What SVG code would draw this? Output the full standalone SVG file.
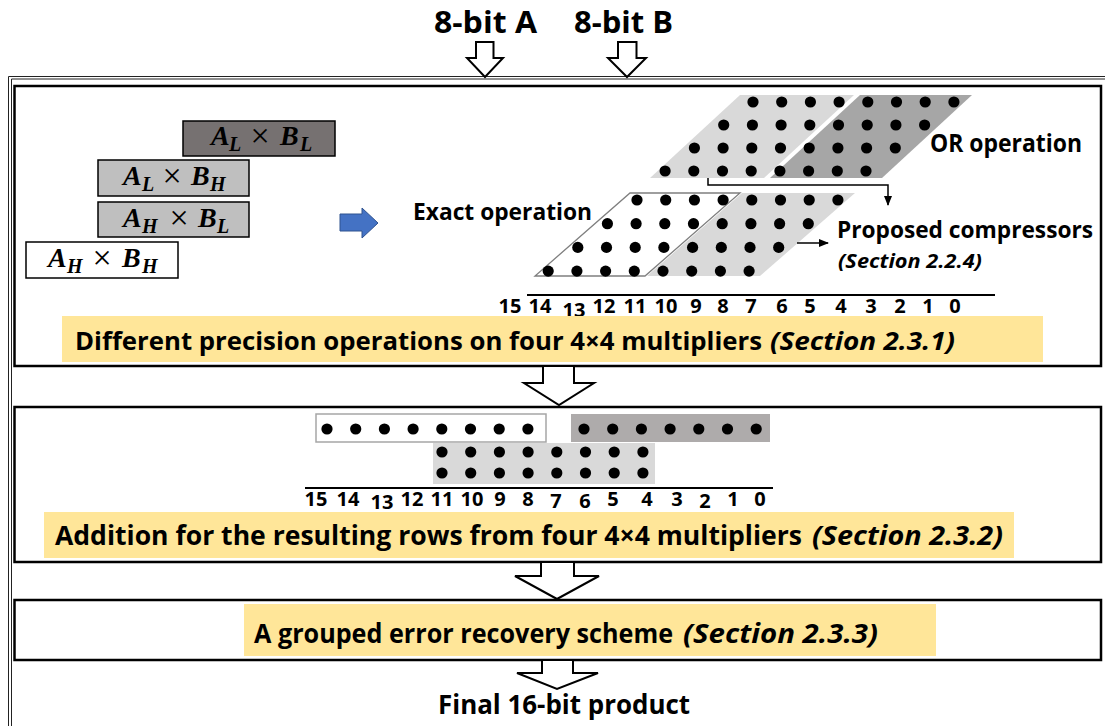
<svg xmlns="http://www.w3.org/2000/svg" xmlns:xlink="http://www.w3.org/1999/xlink" width="1105" height="726" viewBox="0 0 1105 726">
<defs>
<style>
.lbl{font-family:"Open Sans","Liberation Sans",sans-serif;font-weight:700;fill:#000}
.it{font-style:italic}
.math{font-family:"Liberation Serif",serif;font-weight:700;font-style:italic;font-size:28px;fill:#000}
.sub{font-size:20px}
.times{font-family:"Liberation Serif",serif;font-style:normal;font-weight:400;font-size:34px;text-anchor:middle}
.panel{fill:#fff;stroke:#000;stroke-width:2.5}
.band{fill:#ffe699}
.hollow{fill:#fff;stroke:#000;stroke-width:2;stroke-linejoin:miter}
.wire{stroke:#000;stroke-width:1.5;fill:none}
.rule{stroke:#000;stroke-width:2.2}
.num{font-size:20px;text-anchor:middle}
.frame{fill:none;stroke:#222;stroke-width:1}
</style>
<circle id="d" r="5.6" fill="#000"/>
<g id="row7">
<use xlink:href="#d" x="0"/><use xlink:href="#d" x="28.7"/><use xlink:href="#d" x="57.4"/><use xlink:href="#d" x="86.1"/>
<use xlink:href="#d" x="114.8"/><use xlink:href="#d" x="143.5"/><use xlink:href="#d" x="172.2"/>
</g>
<g id="row8"><use xlink:href="#row7"/><use xlink:href="#d" x="200.9"/></g>
<marker id="ah" markerWidth="10" markerHeight="8" refX="9" refY="4" orient="auto" markerUnits="userSpaceOnUse">
<path d="M0,0 L10,4 L0,8 z" fill="#000"/>
</marker>
</defs>

<rect width="1105" height="726" fill="#fff"/>

<!-- outer frame (runs off the right and bottom edges) -->
<path class="frame" d="M1105,76.5 H8.5 V726"/>
<path class="frame" d="M1105,79 H11.5 V726"/>

<!-- inputs -->
<g id="inputs">
<text class="lbl" x="434" y="33" font-size="30" textLength="103" lengthAdjust="spacingAndGlyphs">8-bit A</text>
<text class="lbl" x="574" y="33" font-size="30" textLength="99" lengthAdjust="spacingAndGlyphs">8-bit B</text>
</g>

<!-- stage 1: four 4x4 partial products -->
<g id="panel1">
<rect class="panel" x="14.5" y="86" width="1086.5" height="280"/>

<g id="pp-boxes">
<rect x="183" y="121" width="152" height="35" fill="#767171" stroke="#000" stroke-width="1.5"/>
<rect x="98" y="160" width="151" height="36" fill="#bfbfbf" stroke="#000" stroke-width="1.5"/>
<rect x="98" y="202" width="151" height="35" fill="#bfbfbf" stroke="#000" stroke-width="1.5"/>
<rect x="26" y="242" width="152" height="36" fill="#fff" stroke="#000" stroke-width="1.5"/>

<text class="math" x="211" y="145">A</text><text class="math sub" x="229" y="151">L</text>
<text class="times" x="260" y="147">×</text>
<text class="math" x="280" y="145">B</text><text class="math sub" x="300" y="151">L</text>

<text class="math" x="123" y="185">A</text><text class="math sub" x="142" y="191">L</text>
<text class="times" x="172" y="187">×</text>
<text class="math" x="191" y="185">B</text><text class="math sub" x="210" y="191">H</text>

<text class="math" x="123" y="227">A</text><text class="math sub" x="142" y="233">H</text>
<text class="times" x="179" y="229">×</text>
<text class="math" x="198" y="227">B</text><text class="math sub" x="217" y="233">L</text>

<text class="math" x="48" y="267">A</text><text class="math sub" x="67" y="273">H</text>
<text class="times" x="102" y="269">×</text>
<text class="math" x="122" y="267">B</text><text class="math sub" x="142" y="273">H</text>
</g>

<g id="or-array">
<polygon points="740,95 854,95 764,178 650,178" fill="#d9d9d9"/>
<polygon points="860,95 972,95 882,178 770,178" fill="#a6a6a6"/>
<use xlink:href="#row8" x="753" y="102"/>
<use xlink:href="#row8" x="723.7" y="125"/>
<use xlink:href="#row8" x="694.4" y="148"/>
<use xlink:href="#row8" x="665.1" y="171"/>
<text class="lbl" x="930" y="152" font-size="25" textLength="152" lengthAdjust="spacingAndGlyphs">OR operation</text>
</g>

<g id="exact-array">
<polygon points="742,193 855,193 760,276 647,276" fill="#d9d9d9"/>
<polygon points="630,193 740,193 645,276 535,276" fill="#fff" stroke="#7f7f7f" stroke-width="1.3"/>
<use xlink:href="#row8" x="637" y="200"/>
<use xlink:href="#row8" x="607.4" y="223.7"/>
<use xlink:href="#row8" x="577.8" y="247.4"/>
<use xlink:href="#row8" x="548.2" y="271.1"/>
<text class="lbl" x="413" y="220" font-size="23" textLength="179" lengthAdjust="spacingAndGlyphs">Exact operation</text>
<text class="lbl" x="837" y="238" font-size="24" textLength="256" lengthAdjust="spacingAndGlyphs">Proposed compressors</text>
<text class="lbl it" x="838" y="268" font-size="20" textLength="144" lengthAdjust="spacingAndGlyphs">(Section 2.2.4)</text>
</g>

<g id="bits1">
<line class="rule" x1="527" y1="295" x2="995" y2="295"/>
<g class="lbl num">
<text x="510" y="313">15</text><text x="540" y="313">14</text><text x="574" y="317">13</text><text x="604" y="313">12</text>
<text x="635" y="313">11</text><text x="666" y="313">10</text><text x="696" y="313">9</text><text x="723" y="313">8</text>
<text x="751" y="313">7</text><text x="782" y="313">6</text><text x="810" y="313">5</text><text x="841" y="313">4</text>
<text x="871" y="313">3</text><text x="900" y="313">2</text><text x="928" y="313">1</text><text x="955" y="313">0</text>
</g>
</g>

<rect class="band" x="62" y="316" width="981" height="46"/>
<text class="lbl" x="75" y="350" font-size="25" textLength="687" lengthAdjust="spacingAndGlyphs">Different precision operations on four 4×4 multipliers</text>
<text class="lbl it" x="770" y="350" font-size="25" textLength="185" lengthAdjust="spacingAndGlyphs">(Section 2.3.1)</text>
</g>

<!-- stage 2: row addition -->
<g id="panel2">
<rect class="panel" x="14.5" y="407" width="1086.5" height="155"/>
<rect x="316" y="414" width="230" height="28" fill="#fff" stroke="#a6a6a6" stroke-width="1.5"/>
<rect x="571" y="414" width="199" height="28" fill="#aeabab"/>
<rect x="433" y="443" width="222" height="41" fill="#d9d9d9"/>
<use xlink:href="#row8" x="327" y="429"/>
<use xlink:href="#row7" x="584" y="429"/>
<use xlink:href="#row8" x="442" y="452"/>
<use xlink:href="#row8" x="442" y="473"/>
<line class="rule" x1="305" y1="488" x2="773" y2="488"/>
<g class="lbl num">
<text x="316" y="506">15</text><text x="348" y="506">14</text><text x="382" y="509">13</text><text x="412" y="506">12</text>
<text x="442" y="506">11</text><text x="472" y="506">10</text><text x="500" y="506">9</text><text x="528" y="506">8</text>
<text x="556" y="508">7</text><text x="585" y="508">6</text><text x="613" y="506">5</text><text x="647" y="506">4</text>
<text x="677" y="506">3</text><text x="705" y="508">2</text><text x="733" y="506">1</text><text x="760" y="506">0</text>
</g>
<rect class="band" x="44" y="512" width="970" height="46"/>
<text class="lbl" x="55" y="545" font-size="26" textLength="747" lengthAdjust="spacingAndGlyphs">Addition for the resulting rows from four 4×4 multipliers</text>
<text class="lbl it" x="812" y="545" font-size="26" textLength="191" lengthAdjust="spacingAndGlyphs">(Section 2.3.2)</text>
</g>

<!-- stage 3: error recovery -->
<g id="panel3">
<rect class="panel" x="14.5" y="600" width="1086.5" height="60"/>
<rect class="band" x="244" y="604" width="692" height="52"/>
<text class="lbl" x="254" y="643" font-size="26" textLength="419" lengthAdjust="spacingAndGlyphs">A grouped error recovery scheme</text>
<text class="lbl it" x="683" y="643" font-size="26" textLength="195" lengthAdjust="spacingAndGlyphs">(Section 2.3.3)</text>
</g>

<g id="output">
<text class="lbl" x="438" y="714" font-size="26" textLength="252" lengthAdjust="spacingAndGlyphs">Final 16-bit product</text>
</g>

<!-- connectors -->
<g id="connectors">
<polygon class="hollow" points="476,42 493.5,42 493.5,58 503,58 485,77 467,58 476,58"/>
<polygon class="hollow" points="618,42 636.5,42 636.5,58 646,58 627,77 608,58 618,58"/>
<polygon fill="#4472c4" stroke="#2f528f" stroke-width="1" points="340,214 362,214 362,208 378,223 362,238 362,231 340,231"/>
<path class="wire" d="M708,178 V185 H888 V205" marker-end="url(#ah)"/>
<line class="wire" x1="797" y1="243" x2="828" y2="243" marker-end="url(#ah)"/>
<polygon class="hollow" points="543,366 574,366 574,383 594,383 559,405 524,383 543,383"/>
<polygon class="hollow" points="541,562 574,562 574,576 599,576 557,599 515,576 541,576"/>
<polygon class="hollow" points="542,660 573,660 573,673 598,673 557,689 517,673 542,673"/>
</g>
</svg>
